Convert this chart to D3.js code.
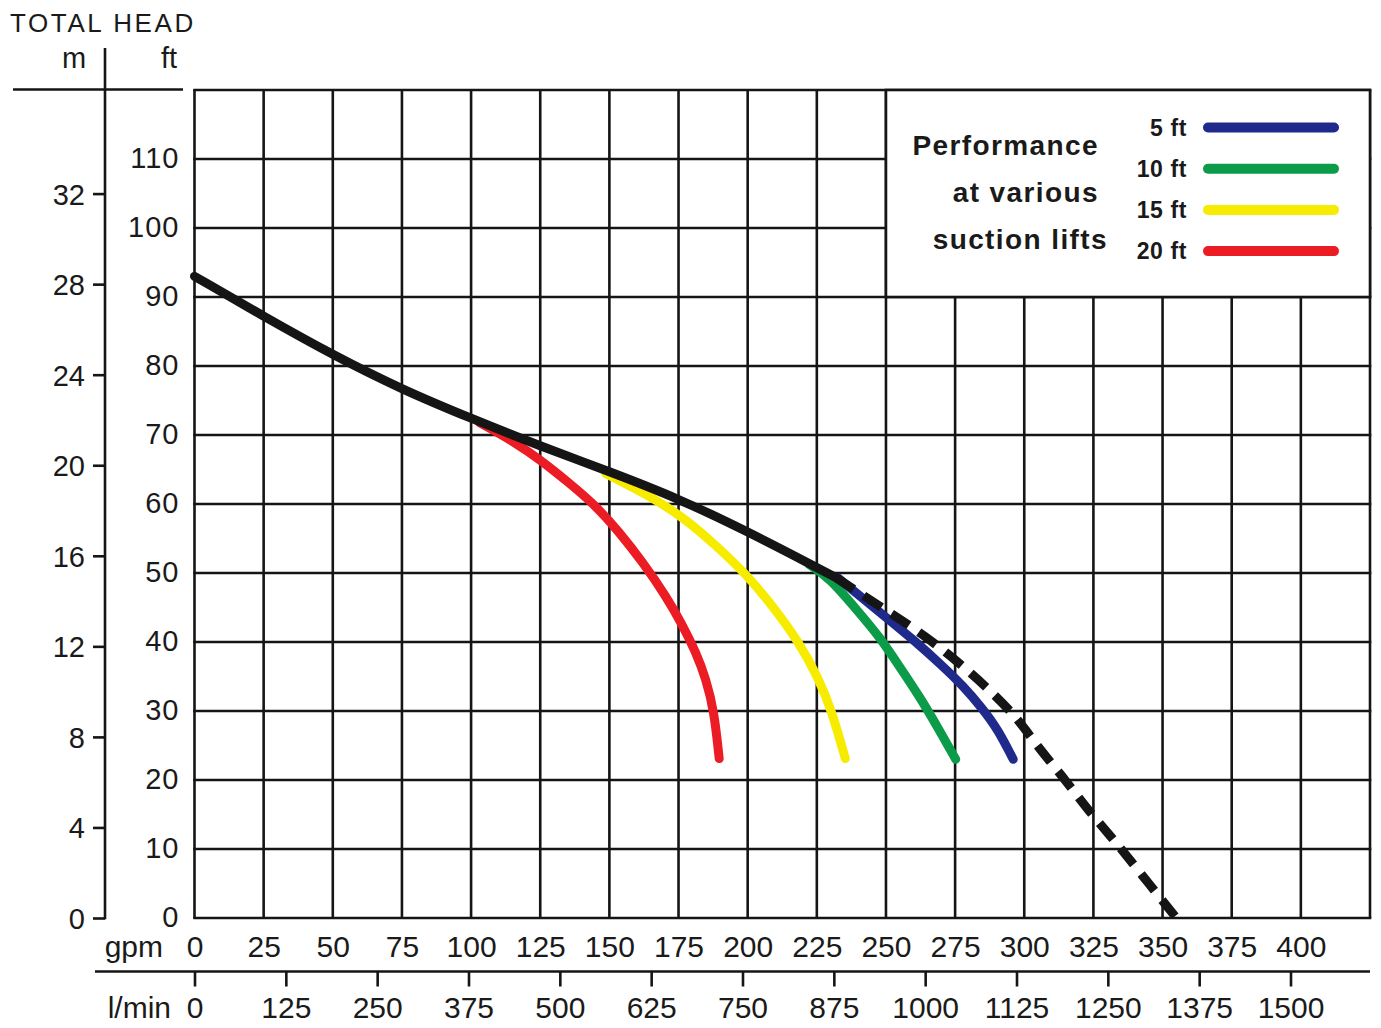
<!DOCTYPE html>
<html>
  <head>
    <meta charset="utf-8" />
    <title>Pump performance curve</title>
    <style>
      body{
        margin: 0;
        background: white;
        font-family: 'Liberation Sans', Arial, sans-serif;
      }
      .tick text{
        font-family: 'Liberation Sans', Arial, sans-serif;
        fill: #1a1a1a;
      }
    </style>
  </head>
  <body>
    <script src="https://d3js.org/d3.v7.min.js"></script>
    <svg id="chart"></svg>
    <script>
      // axis tick values
      var gpmTicks = [0, 25, 50, 75, 100, 125, 150, 175, 200, 225, 250, 275, 300, 325, 350, 375, 400];
      var lminTicks = [0, 125, 250, 375, 500, 625, 750, 875, 1000, 1125, 1250, 1375, 1500];
      var ftTicks = [0, 10, 20, 30, 40, 50, 60, 70, 80, 90, 100, 110];
      var mTicks = [0, 4, 8, 12, 16, 20, 24, 28, 32];

      // [gpm, ft]
      var mainCurve = [[0, 93.0], [25, 87.2], [50, 81.6], [75, 76.6], [100, 72.4], [125, 68.4],
        [150, 64.7], [175, 60.8], [200, 56.0], [225, 50.8], [232, 49.3]];
      var dashedCurve = [[232, 49.3], [240.4, 47.1], [252.4, 44], [264.4, 40.8], [276.4, 37], [286, 33.6],
        [296.9, 29.3], [304.7, 24.9], [314.3, 20.3], [323.3, 15.5], [332.9, 11.1], [342, 6.5], [355, 0]];
      var lift5 = [[232.6, 49.3], [240.4, 46.7], [250, 43.6], [260, 40.3], [270, 36.7], [278, 33.6],
        [285, 30.3], [290.5, 27.3], [296, 23.0]];
      var lift10 = [[222.4, 51.2], [229.6, 49.3], [240.4, 44.2], [247.6, 40.8], [254.8, 36.5],
        [262, 32.2], [269.2, 27.3], [275.2, 23.0]];
      var lift15 = [[148.7, 64.4], [157, 62.7], [166.8, 60.6], [177.6, 57.8], [188.5, 54], [199.3, 49.9],
        [208.9, 45.3], [218.5, 40], [225.7, 34.7], [230.5, 29.9], [235.3, 23.1]];
      var lift20 = [[103, 71.8], [116, 68.9], [125, 66.4], [135, 63.2], [145, 59.8], [153.6, 55.9],
        [162, 51.6], [170.4, 46.7], [176.4, 42.5], [181.3, 38.5], [184.9, 34.7], [187.9, 29.9], [189.7, 23.1]];

      var liftLabels = ["5 ft", "10 ft", "15 ft", "20 ft"];
      var liftColors = ["#1f2a8c", "#0c9b48", "#f7ec00", "#ec1c24"];
      var liftSeries = [lift5, lift10, lift15, lift20];
      var titleLines = ["Performance", "at various", "suction lifts"];

      var width = 1381;
      var height = 1028;
      var ink = "#151515";
      var FT_PER_M = 3.28084;
      var LMIN_PER_GPM = 3.78541;

      var svg = d3.select("#chart")
        .attr("width", width)
        .attr("height", height);

      var x = d3.scaleLinear().domain([0, 425]).range([194.5, 1370]);
      var y = d3.scaleLinear().domain([0, 120]).range([918, 90]);
      var m = d3.scaleLinear().domain([0, 120 / FT_PER_M]).range([918, 90]);
      var lmin = d3.scaleLinear().domain([0, 425 * LMIN_PER_GPM]).range([194.5, 1370]);

      // grid
      var grid = svg.append("g");
      grid.selectAll(".vline")
        .data(d3.range(0, 426, 25))
        .enter()
        .append("line")
        .attr("x1", function (d) { return x(d); })
        .attr("x2", function (d) { return x(d); })
        .attr("y1", y(0))
        .attr("y2", y(120))
        .attr("stroke", ink)
        .attr("stroke-width", 2.6);
      grid.selectAll(".hline")
        .data(d3.range(0, 121, 10))
        .enter()
        .append("line")
        .attr("x1", x(0) - 1.3)
        .attr("x2", x(425) + 1.3)
        .attr("y1", function (d) { return y(d); })
        .attr("y2", function (d) { return y(d); })
        .attr("stroke", ink)
        .attr("stroke-width", 2.6);

      // legend box sits on top of the grid, upper right
      var legend = svg.append("g");
      legend.append("rect")
        .attr("x", x(250))
        .attr("y", y(120))
        .attr("width", x(425) - x(250))
        .attr("height", y(90) - y(120))
        .attr("fill", "white")
        .attr("stroke", ink)
        .attr("stroke-width", 2.6);

      var titleEnds = [1099, 1099, 1108];
      legend.selectAll(".ltitle")
        .data(titleLines)
        .enter()
        .append("text")
        .attr("x", function (d, i) { return titleEnds[i]; })
        .attr("y", function (d, i) { return 155 + i * 47; })
        .attr("text-anchor", "end")
        .attr("font-size", 28)
        .attr("font-weight", "bold")
        .attr("letter-spacing", 1.4)
        .attr("fill", "#1a1a1a")
        .text(function (d) { return d; });

      var rowY = function (i) { return 127.5 + i * 41.2; };
      legend.selectAll(".lline")
        .data(liftLabels)
        .enter()
        .append("line")
        .attr("x1", 1208)
        .attr("x2", 1334)
        .attr("y1", function (d, i) { return rowY(i); })
        .attr("y2", function (d, i) { return rowY(i); })
        .attr("stroke", function (d, i) { return liftColors[i]; })
        .attr("stroke-width", 10)
        .attr("stroke-linecap", "round");
      legend.selectAll(".llabel")
        .data(liftLabels)
        .enter()
        .append("text")
        .attr("x", 1187)
        .attr("y", function (d, i) { return rowY(i) + 8; })
        .attr("text-anchor", "end")
        .attr("font-size", 23)
        .attr("font-weight", "bold")
        .attr("letter-spacing", 0.6)
        .attr("fill", "#1a1a1a")
        .text(function (d) { return d; });

      // curves
      var line = d3.line()
        .x(function (d) { return x(d[0]); })
        .y(function (d) { return y(d[1]); })
        .curve(d3.curveBasis);

      var curves = svg.append("g");
      curves.selectAll(".lift")
        .data(liftSeries.slice().reverse())
        .enter()
        .append("path")
        .attr("d", line)
        .attr("fill", "none")
        .attr("stroke", function (d, i) { return liftColors[3 - i]; })
        .attr("stroke-width", 9)
        .attr("stroke-linecap", "round");

      curves.append("path")
        .datum(dashedCurve)
        .attr("d", line)
        .attr("fill", "none")
        .attr("stroke", ink)
        .attr("stroke-width", 9)
        .attr("stroke-dasharray", "21,12");

      curves.append("path")
        .datum(mainCurve)
        .attr("d", line)
        .attr("fill", "none")
        .attr("stroke", ink)
        .attr("stroke-width", 9)
        .attr("stroke-linecap", "round");

      // ft labels
      var ftAxis = svg.append("g")
        .attr("transform", "translate(" + x(0) + ",0)")
        .call(d3.axisLeft(y).tickValues(ftTicks).tickSize(0).tickPadding(15));
      ftAxis.select(".domain").remove();
      ftAxis.selectAll("text").attr("font-size", 29).attr("letter-spacing", 1).attr("dy", "0.28em");

      // m axis
      var mAxis = svg.append("g")
        .attr("transform", "translate(105,0)")
        .call(d3.axisLeft(m).tickValues(mTicks).tickSize(12).tickPadding(8).tickSizeOuter(0));
      mAxis.select(".domain").remove();
      mAxis.selectAll(".tick line").attr("stroke", ink).attr("stroke-width", 2.6);
      mAxis.selectAll("text").attr("font-size", 29).attr("dy", "0.36em");
      svg.append("line")
        .attr("x1", 105).attr("x2", 105)
        .attr("y1", 48).attr("y2", 919.3)
        .attr("stroke", ink)
        .attr("stroke-width", 2.6);
      svg.append("line")
        .attr("x1", 13).attr("x2", 183)
        .attr("y1", 89.5).attr("y2", 89.5)
        .attr("stroke", ink)
        .attr("stroke-width", 2.6);

      // gpm labels
      var gpmAxis = svg.append("g")
        .attr("transform", "translate(0," + y(0) + ")")
        .call(d3.axisBottom(x).tickValues(gpmTicks).tickSize(0).tickPadding(18));
      gpmAxis.select(".domain").remove();
      gpmAxis.selectAll("text").attr("font-size", 30);

      // l/min axis
      svg.append("line")
        .attr("x1", 95).attr("x2", 1370)
        .attr("y1", 971.5).attr("y2", 971.5)
        .attr("stroke", ink)
        .attr("stroke-width", 2.6);
      var lminAxis = svg.append("g")
        .attr("transform", "translate(0,971.5)")
        .call(d3.axisBottom(lmin).tickValues(lminTicks).tickFormat(d3.format("d"))
          .tickSize(15).tickPadding(10));
      lminAxis.select(".domain").remove();
      lminAxis.selectAll(".tick line").attr("stroke", ink).attr("stroke-width", 2.6);
      lminAxis.selectAll("text").attr("font-size", 30);

      // axis titles
      svg.append("text")
        .attr("x", 10).attr("y", 32)
        .attr("font-size", 26)
        .attr("letter-spacing", 2.6)
        .attr("fill", "#1a1a1a")
        .text("TOTAL HEAD");
      svg.append("text")
        .attr("x", 74).attr("y", 68)
        .attr("text-anchor", "middle")
        .attr("font-size", 29)
        .attr("fill", "#1a1a1a")
        .text("m");
      svg.append("text")
        .attr("x", 169).attr("y", 68)
        .attr("text-anchor", "middle")
        .attr("font-size", 29)
        .attr("fill", "#1a1a1a")
        .text("ft");
      svg.append("text")
        .attr("x", 163).attr("y", 957)
        .attr("text-anchor", "end")
        .attr("font-size", 30)
        .attr("fill", "#1a1a1a")
        .text("gpm");
      svg.append("text")
        .attr("x", 171).attr("y", 1018)
        .attr("text-anchor", "end")
        .attr("font-size", 30)
        .attr("fill", "#1a1a1a")
        .text("l/min");
    </script>
  </body>
</html>
